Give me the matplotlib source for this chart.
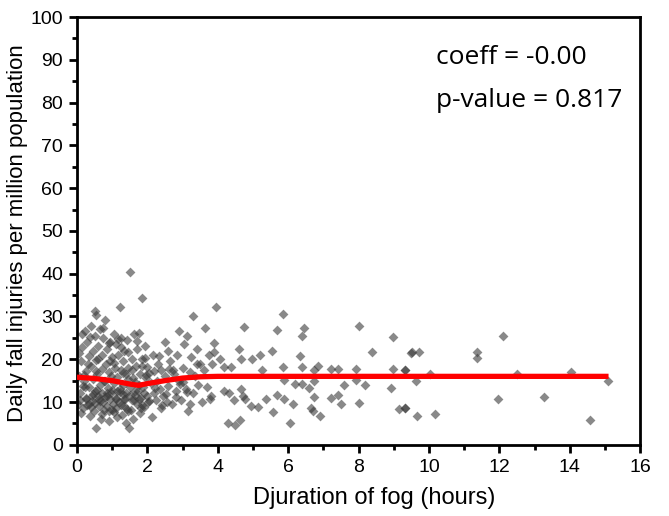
import matplotlib
matplotlib.use("Agg")
import matplotlib.pyplot as plt
from matplotlib.ticker import MultipleLocator

# ---- data ----
dense_x = [0.05,0.08,0.10,0.12,0.15,0.18,0.20,0.22,0.25,0.27,0.30,0.30,0.33,0.35,0.37,0.40,0.40,0.42,0.45,0.45,
           0.48,0.50,0.50,0.52,0.53,0.55,0.55,0.57,0.60,0.60,0.62,0.65,0.65,0.67,0.70,0.70,0.72,0.75,0.75,0.78,
           0.80,0.80,0.82,0.85,0.85,0.88,0.90,0.90,0.92,0.95,0.95,0.98,1.00,1.00,1.02,1.05,1.05,1.08,1.10,1.10,
           1.12,1.15,1.15,1.18,1.20,1.22,1.22,1.25,1.25,1.28,1.30,1.30,1.32,1.35,1.35,1.38,1.40,1.40,1.42,1.45,
           1.45,1.48,1.50,1.52,1.55,1.55,1.58,1.60,1.62,1.65,1.68,1.70,1.72,1.75,1.75,1.78,1.80,1.82,1.85,1.85,
           1.88,1.90,1.92,1.95,1.98,2.00,2.02,2.05,2.10,2.12,2.15,2.18,2.20,2.25,2.28,2.30,2.35,2.38,2.40,2.45,
           2.50,2.50,2.55,2.60,2.60,2.65,2.70,2.75,2.80,2.85,2.90,2.90,2.95,3.00,3.05,3.10,3.14,3.15,3.20,3.25,
           3.29,3.30,3.35,3.40,3.45,3.50,3.55,3.60,3.64,3.70,3.75,3.80,
           0.02,0.06,0.11,0.16,0.21,0.26,0.31,0.36,0.41,0.46,0.51,0.56,0.61,0.66,0.71,0.76,0.81,0.86,0.91,0.96,
           1.01,1.06,1.11,1.16,1.21,1.26,1.31,1.36,1.41,1.46,1.51,1.56,1.61,1.66,1.71,1.76,1.81,1.86,1.91,1.96,
           0.14,0.24,0.34,0.44,0.54,0.64,0.74,0.84,0.94,1.04,1.14,1.24,1.34,1.44,1.54,1.64,1.74,1.84,1.94,2.04,
           2.22,2.42,2.62,2.82,3.02,3.22,3.42,2.33,2.53,2.73,2.93,3.13]
dense_y = [16.0,12.2,10.5,19.5,22.8,8.6,14.8,26.5,17.2,11.0,24.0,9.3,20.8,13.5,6.8,27.8,18.5,10.2,15.4,22.0,
           8.0,12.5,25.5,31.3,30.4,4.0,19.8,16.5,11.5,23.2,9.0,27.0,14.0,6.0,21.0,17.8,12.0,10.0,25.0,8.2,
           29.2,15.0,19.0,11.3,22.5,13.2,5.5,7.8,17.0,24.0,10.8,16.0,12.8,20.5,9.5,26.0,14.5,18.0,8.5,11.0,
           23.5,6.5,15.8,21.0,10.0,32.2,13.0,17.5,25.0,7.0,11.8,19.5,14.0,9.0,22.0,5.0,16.5,12.0,24.5,8.0,
           18.0,4.0,13.5,40.4,20.0,10.5,6.0,15.5,26.0,12.5,18.5,9.5,22.5,26.2,14.0,7.5,16.5,11.0,34.4,20.0,
           13.5,8.8,23.0,15.5,18.1,11.5,10.0,16.8,14.5,6.5,21.0,12.0,17.2,10.5,15.0,19.0,13.0,8.5,17.5,11.5,
           16.0,24.0,10.0,22.0,13.8,19.5,9.5,16.5,12.5,21.0,26.5,15.0,10.5,18.0,23.5,13.0,25.4,8.0,17.0,20.5,
           30.0,12.0,16.0,22.5,14.0,19.0,10.0,17.5,27.3,13.5,21.0,11.5,
           9.5,21.5,7.5,13.8,16.2,10.8,18.8,25.2,8.8,11.8,9.8,12.8,20.0,10.2,7.2,14.8,11.2,9.0,23.8,12.2,
           8.2,19.2,10.6,24.8,12.4,9.2,16.8,10.8,8.4,21.8,11.6,17.6,10.4,14.6,24.2,10.6,8.6,18.4,12.0,16.2,
           25.8,13.4,9.6,11.4,17.2,10.6,27.4,12.2,19.6,7.6,12.6,22.8,10.6,15.4,8.2,11.6,12.6,9.2,20.2,10.2,
           13.2,9.2,17.8,11.2,14.6,9.6,18.8,20.8,11.8,17.6,14.2,12.4]

sparse_x = [3.96,5.85,4.74,5.69,6.46,6.39,8.02,8.97,3.90,3.90,4.59,5.53,4.07,4.67,4.98,5.19,6.33,8.37,3.83,4.17,
            4.39,5.27,5.85,6.39,6.73,6.86,7.23,7.42,7.93,8.97,9.32,9.49,5.88,6.20,6.40,6.60,6.73,7.59,7.94,8.19,
            8.92,3.79,4.17,4.32,4.45,4.67,4.71,4.77,4.95,5.14,5.36,5.68,5.89,6.13,5.56,4.64,4.30,4.48,6.04,6.65,
            6.70,6.90,6.73,7.23,7.42,7.51,8.02,9.14,9.32,
            12.11,9.51,9.72,11.37,11.37,9.32,9.63,10.02,12.49,14.02,15.09,9.32,9.65,10.17,11.97,13.28,14.57]
sparse_y = [32.1,30.6,27.6,26.9,27.4,25.5,27.8,25.2,23.9,21.7,22.3,22.0,20.0,20.1,20.1,20.9,20.8,21.7,18.8,18.1,
            18.1,17.4,18.2,18.2,17.5,18.5,17.8,17.8,17.7,17.8,17.5,21.4,15.2,14.2,14.2,13.2,14.8,14.0,15.2,13.9,
            13.2,10.7,12.5,12.1,10.5,13.1,11.3,10.7,9.1,8.9,10.7,11.7,10.7,9.5,7.7,5.9,5.0,4.6,5.0,8.5,
            7.8,6.8,11.1,10.9,11.7,9.6,9.7,8.3,8.6,
            25.4,21.6,21.6,21.7,20.3,17.6,15.0,16.5,16.6,17.1,15.0,8.6,6.7,7.2,10.7,11.1,5.8]

fit_x = [0.0, 0.5, 1.0, 1.5, 1.75, 2.0, 2.5, 3.0, 3.5, 4.0, 8.0, 15.1]
fit_y = [15.8, 15.5, 15.0, 14.2, 13.9, 14.3, 15.0, 15.6, 15.9, 16.0, 16.0, 16.0]

x_ticks = [0, 2, 4, 6, 8, 10, 12, 14, 16]
y_ticks = [0, 10, 20, 30, 40, 50, 60, 70, 80, 90, 100]
coeff_text = "coeff = -0.00"
pvalue_text = "p-value = 0.817"

# ---- plot ----
plt.rcParams['font.family'] = ['Liberation Sans', 'DejaVu Sans']
fig = plt.figure(figsize=(6.69, 5.16), dpi=100)
ax = fig.add_axes([0.115, 0.138, 0.842, 0.829])

ax.scatter(dense_x + sparse_x, dense_y + sparse_y, marker='D', s=25,
           color='#3a3a3a', alpha=0.6, linewidths=0, zorder=2)
ax.plot(fit_x, fit_y, color='#ff0000', lw=3.8, solid_capstyle='butt', zorder=3)

ax.set_xlim(0, 16)
ax.set_ylim(0, 100)
ax.set_xticks(x_ticks)
ax.set_yticks(y_ticks)
ax.xaxis.set_minor_locator(MultipleLocator(1))
ax.yaxis.set_minor_locator(MultipleLocator(5))
ax.tick_params(which='major', direction='out', length=6, width=2, labelsize=14, pad=4)
ax.tick_params(which='minor', direction='out', length=3.5, width=2)
for sp in ax.spines.values():
    sp.set_linewidth(2)

ax.set_xlabel("Djuration of fog (hours)", fontsize=17)
ax.set_ylabel("Daily fall injuries per million population", fontsize=16)
ax.xaxis.set_label_coords(0.527, -0.098)
ax.yaxis.set_label_coords(-0.087, 0.495)

ax.text(10.2, 90.6, coeff_text, fontsize=19, family=['Open Sans', 'DejaVu Sans'], va='center')
ax.text(10.2, 80.4, pvalue_text, fontsize=19, family=['Open Sans', 'DejaVu Sans'], va='center')

fig.savefig("out.png", dpi=100)
